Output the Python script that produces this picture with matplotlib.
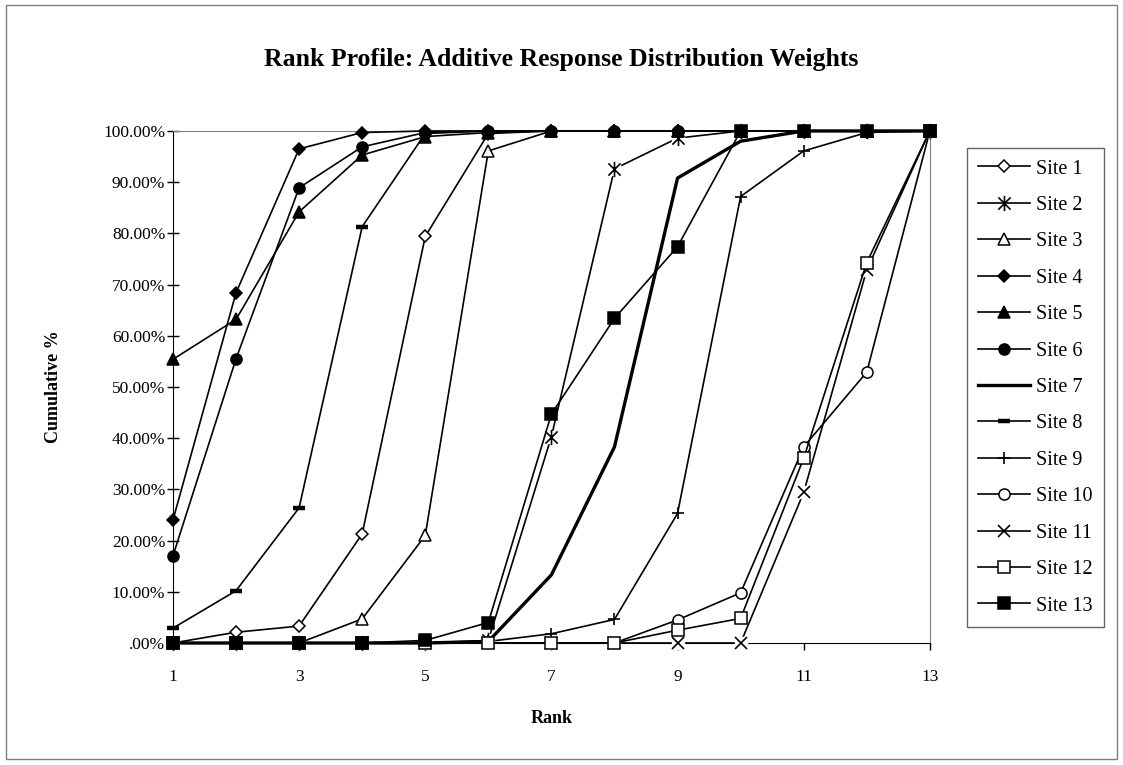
import matplotlib
matplotlib.use('Agg')
import matplotlib.pyplot as plt
from matplotlib.ticker import FuncFormatter
from matplotlib.patches import Rectangle
from matplotlib.path import Path
from matplotlib.lines import Line2D

# ── DATA ──────────────────────────────────────────────
ranks = [1, 2, 3, 4, 5, 6, 7, 8, 9, 10, 11, 12, 13]
site_names = ['Site %d' % i for i in range(1, 14)]

site1  = [0.0, 2.1, 3.3, 21.3, 79.4, 99.5, 100, 100, 100, 100, 100, 100, 100]
site2  = [0.0, 0.0, 0.0, 0.0, 0.0, 0.5, 40.3, 92.6, 98.6, 100, 100, 100, 100]
site3  = [0.0, 0.0, 0.0, 4.7, 21.0, 96.1, 100, 100, 100, 100, 100, 100, 100]
site4  = [24.0, 68.4, 96.5, 99.7, 100, 100, 100, 100, 100, 100, 100, 100, 100]
site5  = [55.4, 63.2, 84.2, 95.3, 98.9, 99.7, 100, 100, 100, 100, 100, 100, 100]
site6  = [17.0, 55.5, 88.9, 96.9, 99.7, 100, 100, 100, 100, 100, 100, 100, 100]
site7  = [0.0, 0.0, 0.0, 0.0, 0.0, 0.3, 13.3, 38.3, 90.8, 98.0, 100, 100, 100]
site8  = [2.9, 10.2, 26.4, 81.3, 99.5, 100, 100, 100, 100, 100, 100, 100, 100]
site9  = [0.0, 0.0, 0.0, 0.0, 0.0, 0.3, 1.8, 4.6, 25.3, 87.2, 96.1, 99.7, 100]
site10 = [0.0, 0.0, 0.0, 0.0, 0.0, 0.0, 0.0, 0.0, 4.5, 9.8, 38.3, 52.9, 100]
site11 = [0.0, 0.0, 0.0, 0.0, 0.0, 0.0, 0.0, 0.0, 0.0, 0.0, 29.4, 72.9, 100]
site12 = [0.0, 0.0, 0.0, 0.0, 0.0, 0.0, 0.0, 0.0, 2.5, 4.8, 36.1, 74.3, 100]
site13 = [0.0, 0.0, 0.0, 0.0, 0.5, 4.0, 44.7, 63.4, 77.4, 100, 100, 100, 100]

series = [site1, site2, site3, site4, site5, site6, site7,
          site8, site9, site10, site11, site12, site13]

# Excel-style asterisk: an X with a vertical stroke
asterisk = Path([(-1, -1), (1, 1), (-1, 1), (1, -1), (0, -1.25), (0, 1.25)],
                [Path.MOVETO, Path.LINETO, Path.MOVETO, Path.LINETO,
                 Path.MOVETO, Path.LINETO])

# ── STYLES (marker, size, face, edge width, line width, white backing) ──
styles = [
    dict(marker='D', ms=6,  mfc='white', mew=1.1, lw=1.2, bg=False),
    dict(marker=asterisk, ms=11, mfc='black', mew=1.2, lw=1.2, bg=True),
    dict(marker='^', ms=8,  mfc='white', mew=1.1, lw=1.2, bg=False),
    dict(marker='D', ms=6,  mfc='black', mew=1.1, lw=1.2, bg=False),
    dict(marker='^', ms=8,  mfc='black', mew=1.1, lw=1.2, bg=False),
    dict(marker='o', ms=8,  mfc='black', mew=1.1, lw=1.2, bg=False),
    dict(marker='None', ms=0, mfc='black', mew=0, lw=2.4, bg=False),
    dict(marker='_', ms=9,  mfc='black', mew=3.2, lw=1.2, bg=False),
    dict(marker='+', ms=9,  mfc='black', mew=1.2, lw=1.2, bg=False),
    dict(marker='o', ms=8,  mfc='white', mew=1.1, lw=1.2, bg=False),
    dict(marker='x', ms=8,  mfc='black', mew=1.2, lw=1.2, bg=True),
    dict(marker='s', ms=8,  mfc='white', mew=1.1, lw=1.2, bg=False),
    dict(marker='s', ms=8,  mfc='black', mew=1.1, lw=1.2, bg=False),
]

plt.rcParams['font.family'] = ['Liberation Serif', 'DejaVu Serif']

fig = plt.figure(figsize=(11.23, 7.65), dpi=100)
ax = fig.add_axes([0.154, 0.1595, 0.674, 0.6693])

for vals, st in zip(series, styles):
    ax.plot(ranks, vals, color='black', linewidth=st['lw'],
            clip_on=False, zorder=3)
    if st['bg']:
        # white marker backing, like Excel's marker background
        ax.plot(ranks, vals, linestyle='None', marker='s', markersize=9,
                markerfacecolor='white', markeredgecolor='white',
                clip_on=False, zorder=3)
    ax.plot(ranks, vals, linestyle='None', marker=st['marker'],
            markersize=st['ms'], markerfacecolor=st['mfc'],
            markeredgecolor='black', markeredgewidth=st['mew'],
            clip_on=False, zorder=3)

# legend entries
leg_handles = [Line2D([], [], color='black', linewidth=st['lw'],
                      marker=st['marker'], markersize=st['ms'],
                      markerfacecolor=st['mfc'], markeredgecolor='black',
                      markeredgewidth=st['mew'])
               for st in styles]

ax.set_xlim(1, 13)
ax.set_ylim(0, 100)
ax.set_xticks([1, 3, 5, 7, 9, 11, 13])
ax.set_yticks(range(0, 101, 10))


def pct(v, pos):
    s = '%.2f%%' % v
    return s[1:] if s.startswith('0') else s


ax.yaxis.set_major_formatter(FuncFormatter(pct))
ax.tick_params(axis='y', direction='inout', length=9, width=1,
               labelsize=12.5, pad=1)
ax.tick_params(axis='x', direction='out', length=5, width=1,
               labelsize=12.5, pad=14)

for side in ['top', 'right']:
    ax.spines[side].set_color('#808080')
for side in ['left', 'bottom']:
    ax.spines[side].set_color('black')

ax.set_xlabel('Rank', fontsize=13, fontweight='bold', labelpad=18)
ax.set_ylabel('Cumulative %', fontsize=13, fontweight='bold', labelpad=30)

fig.text(0.5, 0.922, 'Rank Profile: Additive Response Distribution Weights',
         ha='center', va='center', fontsize=18.5, fontweight='bold')

leg = ax.legend(handles=leg_handles, labels=site_names, loc='center left',
                bbox_to_anchor=(0.861, 0.4935), bbox_transform=fig.transFigure,
                fontsize=14.5, frameon=True, fancybox=False, handlelength=2.6,
                labelspacing=0.86, borderpad=0.55, handletextpad=0.3,
                borderaxespad=0)
leg.get_frame().set_edgecolor('#404040')
leg.get_frame().set_linewidth(1.0)

# Outer chart border
fig.patches.append(Rectangle((0.005, 0.008), 0.99, 0.985,
                             transform=fig.transFigure, fill=False,
                             edgecolor='#808080', linewidth=1.0))

fig.savefig('out.png', dpi=100)
